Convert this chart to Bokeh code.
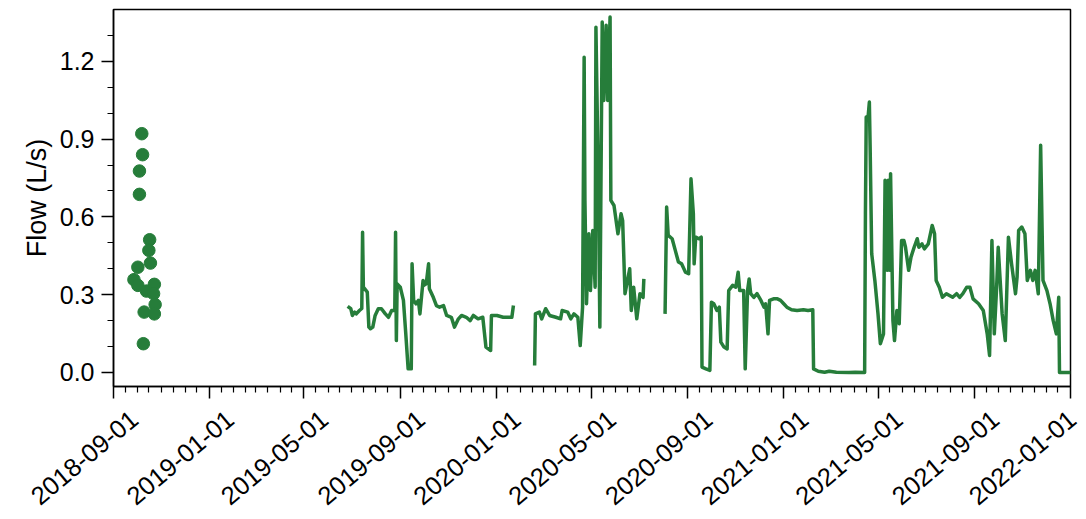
import math
import pandas as pd
from bokeh.plotting import figure
from bokeh.layouts import column
from bokeh.core.properties import value
from bokeh.models import (FixedTicker, Range1d, NumeralTickFormatter, ColumnDataSource,
                          CustomJSTickFormatter)
from bokeh.embed import file_html
from bokeh.resources import INLINE

# ---- data ----
sample_dates = ["2018-10-07", "2018-10-08", "2018-10-04", "2018-10-04", "2018-10-17", "2018-10-16",
                "2018-10-18", "2018-10-02", "2018-09-27", "2018-10-02", "2018-10-13", "2018-10-23",
                "2018-10-22", "2018-10-24", "2018-10-10", "2018-10-23", "2018-10-09"]
sample_flow = [0.921, 0.840, 0.777, 0.687, 0.512, 0.471, 0.422, 0.406, 0.358, 0.336, 0.314, 0.340,
               0.304, 0.262, 0.233, 0.226, 0.111]

seg1_dates = ["2019-06-26", "2019-06-30", "2019-07-02", "2019-07-05", "2019-07-07", "2019-07-11",
              "2019-07-14", "2019-07-15", "2019-07-16", "2019-07-21", "2019-07-23", "2019-07-25",
              "2019-07-28", "2019-07-31", "2019-08-04", "2019-08-08", "2019-08-13", "2019-08-17",
              "2019-08-21", "2019-08-25", "2019-08-26", "2019-08-27", "2019-08-28", "2019-09-01",
              "2019-09-05", "2019-09-08", "2019-09-11", "2019-09-15", "2019-09-16", "2019-09-18",
              "2019-09-21", "2019-09-24", "2019-09-26", "2019-09-30", "2019-10-01", "2019-10-04",
              "2019-10-07", "2019-10-08", "2019-10-13", "2019-10-17", "2019-10-21", "2019-10-26",
              "2019-10-30", "2019-11-05", "2019-11-09", "2019-11-14", "2019-11-18", "2019-11-24",
              "2019-11-29", "2019-12-03", "2019-12-09", "2019-12-15", "2019-12-19", "2019-12-25",
              "2019-12-26", "2020-01-02", "2020-01-10", "2020-01-21", "2020-01-23"]
seg1_flow = [0.255, 0.246, 0.220, 0.233, 0.226, 0.239,
             0.247, 0.541, 0.330, 0.310, 0.175, 0.169,
             0.175, 0.220, 0.246, 0.246, 0.226, 0.213,
             0.239, 0.240, 0.541, 0.123, 0.342, 0.329,
             0.278, 0.149, 0.014, 0.014, 0.419, 0.278,
             0.265, 0.278, 0.226, 0.355, 0.336, 0.342,
             0.419, 0.323, 0.290, 0.258, 0.252, 0.258,
             0.220, 0.213, 0.175, 0.207, 0.220, 0.213,
             0.200, 0.220, 0.207, 0.213, 0.098, 0.085,
             0.220, 0.220, 0.213, 0.213, 0.258]

seg2_dates = ["2020-02-19", "2020-02-20", "2020-02-25", "2020-02-28", "2020-03-04", "2020-03-09",
              "2020-03-17", "2020-03-23", "2020-03-25", "2020-04-01", "2020-04-05", "2020-04-09",
              "2020-04-14", "2020-04-17", "2020-04-20", "2020-04-22", "2020-04-23", "2020-04-25",
              "2020-04-28", "2020-04-30", "2020-05-03", "2020-05-06", "2020-05-07", "2020-05-10",
              "2020-05-12", "2020-05-15", "2020-05-17", "2020-05-20", "2020-05-22", "2020-05-25",
              "2020-05-26", "2020-05-30", "2020-06-04", "2020-06-08", "2020-06-10", "2020-06-13",
              "2020-06-19", "2020-06-21", "2020-06-24", "2020-06-28", "2020-07-02", "2020-07-06",
              "2020-07-07"]
seg2_flow = [0.027, 0.226, 0.233, 0.207, 0.246, 0.220,
             0.213, 0.207, 0.239, 0.233, 0.207, 0.226,
             0.213, 0.104, 0.252, 1.216, 0.664, 0.265,
             0.535, 0.316, 0.548, 0.329, 1.332, 0.741,
             0.175, 1.352, 1.049, 1.339, 1.049, 1.371,
             0.664, 0.644, 0.535, 0.612, 0.586, 0.304,
             0.400, 0.239, 0.329, 0.207, 0.304, 0.290,
             0.361]

seg3_dates = ["2020-08-03", "2020-08-05", "2020-08-07", "2020-08-12", "2020-08-16", "2020-08-20",
              "2020-08-24", "2020-08-29", "2020-09-02", "2020-09-05", "2020-09-08", "2020-09-09",
              "2020-09-11", "2020-09-15", "2020-09-18", "2020-09-19", "2020-09-24", "2020-09-29",
              "2020-10-01", "2020-10-04", "2020-10-08", "2020-10-11", "2020-10-13", "2020-10-17",
              "2020-10-21", "2020-10-23", "2020-10-28", "2020-11-01", "2020-11-04", "2020-11-06",
              "2020-11-11", "2020-11-13", "2020-11-16", "2020-11-18", "2020-11-20", "2020-11-24",
              "2020-11-28", "2020-12-03", "2020-12-07", "2020-12-09", "2020-12-12", "2020-12-14",
              "2020-12-19", "2020-12-24", "2020-12-28", "2021-01-01", "2021-01-05", "2021-01-11",
              "2021-01-18", "2021-01-26", "2021-02-01", "2021-02-07", "2021-02-08", "2021-02-14",
              "2021-02-22", "2021-02-28", "2021-03-09", "2021-03-25", "2021-04-02", "2021-04-14",
              "2021-04-15", "2021-04-16", "2021-04-18", "2021-04-20", "2021-04-21", "2021-04-23",
              "2021-04-27", "2021-05-01", "2021-05-04", "2021-05-08", "2021-05-10", "2021-05-13",
              "2021-05-14", "2021-05-16", "2021-05-17", "2021-05-20", "2021-05-22", "2021-05-25",
              "2021-05-28", "2021-05-31", "2021-06-03", "2021-06-05", "2021-06-09", "2021-06-12",
              "2021-06-16", "2021-06-20", "2021-06-22", "2021-06-26", "2021-06-29", "2021-07-04",
              "2021-07-09", "2021-07-12", "2021-07-14", "2021-07-18", "2021-07-22", "2021-07-27",
              "2021-07-31", "2021-08-04", "2021-08-09", "2021-08-13", "2021-08-17", "2021-08-22",
              "2021-08-26", "2021-08-30", "2021-09-06", "2021-09-12", "2021-09-17", "2021-09-20",
              "2021-09-23", "2021-09-26", "2021-09-29", "2021-10-01", "2021-10-06", "2021-10-10",
              "2021-10-14", "2021-10-18", "2021-10-23", "2021-10-25", "2021-10-27", "2021-10-31",
              "2021-11-04", "2021-11-07", "2021-11-11", "2021-11-14", "2021-11-17", "2021-11-21",
              "2021-11-24", "2021-11-27", "2021-12-02", "2021-12-06", "2021-12-10", "2021-12-14",
              "2021-12-17", "2021-12-18", "2022-01-01"]
seg3_flow = [0.226, 0.638, 0.529, 0.516, 0.471, 0.426,
             0.419, 0.387, 0.381, 0.747, 0.612, 0.419,
             0.522, 0.516, 0.522, 0.021, 0.014, 0.008,
             0.271, 0.265, 0.239, 0.252, 0.117, 0.098,
             0.091, 0.316, 0.336, 0.329, 0.387, 0.316,
             0.316, 0.014, 0.316, 0.361, 0.304, 0.290,
             0.304, 0.278, 0.252, 0.265, 0.149, 0.278,
             0.284, 0.284, 0.278, 0.265, 0.252, 0.242,
             0.239, 0.242, 0.239, 0.242, 0.014, 0.005,
             0.001, 0.005, 0.001, 0.000, 0.001, 0.000,
             0.612, 0.985, 0.972, 1.043, 0.869, 0.458,
             0.355, 0.226, 0.111, 0.149, 0.741, 0.394,
             0.741, 0.394, 0.767, 0.200, 0.123, 0.239,
             0.188, 0.509, 0.509, 0.483, 0.394, 0.445,
             0.483, 0.516, 0.483, 0.496, 0.477, 0.496,
             0.567, 0.535, 0.355, 0.329, 0.290, 0.304,
             0.297, 0.290, 0.304, 0.290, 0.304, 0.329,
             0.329, 0.284, 0.265, 0.239, 0.149, 0.066,
             0.509, 0.149, 0.329, 0.483, 0.226, 0.123,
             0.522, 0.419, 0.304, 0.368, 0.548, 0.561,
             0.535, 0.355, 0.394, 0.355, 0.394, 0.304,
             0.876, 0.355, 0.316, 0.265, 0.200, 0.149,
             0.290, 0.000, 0.000]

x_tick_dates = ["2018-09-01", "2019-01-01", "2019-05-01", "2019-09-01", "2020-01-01", "2020-05-01",
                "2020-09-01", "2021-01-01", "2021-05-01", "2021-09-01", "2022-01-01"]
y_ticks = [0.0, 0.3, 0.6, 0.9, 1.2]
y_minor_ticks = [0.1, 0.2, 0.4, 0.5, 0.7, 0.8, 1.0, 1.1, 1.3]
y_min, y_max = -0.054, 1.40

GREEN = "#267d3a"
FONT = "Liberation Sans"
PAGE_W = 1086
LEFT, RIGHT, TOP, TICKS = 113, 16, 9, 13
FRAME_W, FRAME_H = PAGE_W - LEFT - RIGHT, 377
LABEL_H = 120
LABEL_GAP = 9          # gap between tick ends and the label strip frame
LABEL_ANGLE = math.radians(40)
LABEL_DX = 15          # labels hang a little right of their tick
LABEL_FONT_PX = 25.5


def to_ms(s):
    return pd.Timestamp(s).timestamp() * 1000.0


x_major = [to_ms(d) for d in x_tick_dates]
x_minor = []
for m in pd.date_range(x_tick_dates[0], x_tick_dates[-1], freq="MS"):
    x_minor.append(m.timestamp() * 1000.0)
    x_minor.append((m + pd.Timedelta(days=15)).timestamp() * 1000.0)
x_minor = [t for t in x_minor if t not in x_major and t <= x_major[-1]]

x0, x1 = x_major[0], x_major[-1]
p = figure(width=PAGE_W, height=TOP + FRAME_H + TICKS, x_axis_type="datetime",
           output_backend="svg", toolbar_location=None,
           x_range=Range1d(x0, x1), y_range=Range1d(y_min, y_max),
           min_border_left=LEFT, min_border_right=RIGHT, min_border_top=TOP,
           min_border_bottom=TICKS)
p.frame_align = False

for dts, vals in [(seg1_dates, seg1_flow), (seg2_dates, seg2_flow), (seg3_dates, seg3_flow)]:
    src = ColumnDataSource(dict(x=pd.to_datetime(dts), y=vals))
    p.line("x", "y", source=src, line_color=GREEN, line_width=3.5, line_join="round")

ssrc = ColumnDataSource(dict(x=pd.to_datetime(sample_dates), y=sample_flow))
p.scatter("x", "y", source=ssrc, size=12.5, fill_color=GREEN, line_color=GREEN)

p.xgrid.visible = False
p.ygrid.visible = False
p.outline_line_color = "black"
p.outline_line_width = 1.5
p.outline_line_alpha = 1.0

# x axis carries the ticks; the date labels are drawn in the strip below
p.xaxis.ticker = FixedTicker(ticks=x_major, minor_ticks=x_minor)
p.xaxis.formatter = CustomJSTickFormatter(code="return '';")
p.xaxis.major_label_text_font_size = "0px"
p.xaxis.major_label_standoff = 0

p.yaxis.ticker = FixedTicker(ticks=y_ticks, minor_ticks=y_minor_ticks)
p.yaxis.formatter = NumeralTickFormatter(format="0.0")
p.yaxis.axis_label = "Flow (L/s)"

for ax in [p.xaxis[0], p.yaxis[0]]:
    ax.axis_line_color = "black"
    ax.axis_line_width = 1.5
    ax.major_tick_line_color = "black"
    ax.major_tick_line_width = 1.5
    ax.minor_tick_line_color = "black"
    ax.minor_tick_line_width = 1.2
    ax.major_tick_in = 0
    ax.major_tick_out = 12
    ax.minor_tick_in = 0
    ax.minor_tick_out = 6
    ax.axis_label_text_font = FONT
    ax.axis_label_text_font_size = "27px"
    ax.axis_label_text_font_style = "normal"
    ax.axis_label_text_color = "black"

p.yaxis.major_label_text_font = FONT
p.yaxis.major_label_text_font_size = "25px"
p.yaxis.major_label_text_color = "black"
p.yaxis.major_label_standoff = 7
p.yaxis.axis_label_standoff = 5

# strip below the plot with rotated date labels, on the same time scale
mpp = (x1 - x0) / FRAME_W
strip = figure(width=PAGE_W, height=LABEL_H, output_backend="svg", toolbar_location=None,
               x_range=Range1d(x0 - LEFT * mpp, x0 + (PAGE_W - LEFT) * mpp),
               y_range=Range1d(0, 1), x_axis_location=None, y_axis_location=None,
               min_border_left=0, min_border_right=0, min_border_top=LABEL_GAP,
               min_border_bottom=0)
strip.frame_align = False
strip.outline_line_color = None
strip.xgrid.visible = False
strip.ygrid.visible = False

# keep the last label's box inside the page
box_h = 1.15 * LABEL_FONT_PX
room = RIGHT - box_h * math.sin(LABEL_ANGLE) - 1
dx = [LABEL_DX] * len(x_major)
dx[-1] = min(LABEL_DX, room)
lab_src = ColumnDataSource(dict(x=x_major, y=[1] * len(x_major), text=x_tick_dates, dx=dx))
strip.text("x", "y", text="text", source=lab_src, angle=LABEL_ANGLE, x_offset="dx",
           text_align="right", text_baseline="top",
           text_font=value(FONT), text_font_size=value(f"{LABEL_FONT_PX}px"), text_color="black")

layout = column(p, strip, spacing=0)
open("out.html", "w").write(file_html(layout, INLINE))
